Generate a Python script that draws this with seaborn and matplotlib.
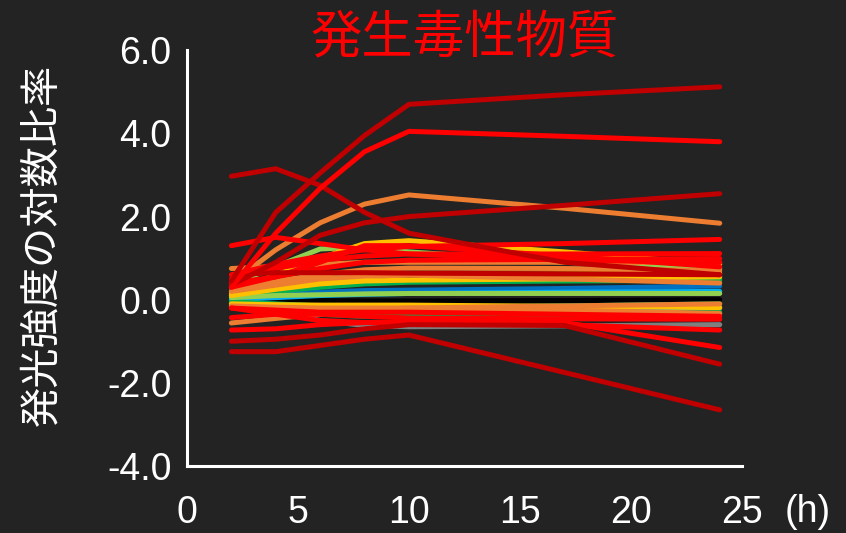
import numpy as np
import pandas as pd
import matplotlib
matplotlib.use('Agg')
import matplotlib.pyplot as plt
import seaborn as sns

# time points (h)
hours = [2, 4, 6, 8, 10, 17, 24]

# Excel standard colours used in the chart
RED = '#FF0000'
DRED = '#C00000'
ORANGE = '#ED7D31'
YELLOW = '#FFC000'
LGREEN = '#92D050'
GREEN = '#00B050'
CYAN = '#00B0F0'
BLUE = '#0070C0'
BLACK = '#000000'
GRAY = '#7F7F7F'

# log ratio of luminescence, one list per compound
line_colors = [
    GRAY, BLACK, BLUE, CYAN, CYAN, GREEN, GREEN, GREEN, GREEN,
    LGREEN, LGREEN, YELLOW, YELLOW, YELLOW, YELLOW,
    ORANGE, ORANGE, ORANGE, ORANGE, ORANGE, ORANGE,
    RED, RED, RED, DRED, RED, RED, RED, RED, RED, RED,
    DRED, DRED, DRED, DRED, RED, DRED,
]
line_values = [
    [-0.15, -0.30, -0.50, -0.62, -0.65, -0.63, -0.60],   # gray
    [0.00, 0.00, -0.02, -0.03, -0.03, -0.02, 0.00],      # black
    [0.05, 0.12, 0.18, 0.22, 0.23, 0.27, 0.33],          # blue
    [0.00, 0.05, 0.10, 0.13, 0.15, 0.18, 0.20],          # cyan
    [-0.05, -0.15, -0.25, -0.30, -0.30, -0.25, -0.20],   # cyan
    [0.10, 0.20, 0.30, 0.38, 0.42, 0.45, 0.47],          # green
    [0.20, 0.35, 0.50, 0.60, 0.65, 0.58, 0.50],          # green
    [-0.05, -0.10, -0.15, -0.20, -0.20, -0.15, -0.10],   # green
    [-0.10, -0.20, -0.35, -0.40, -0.40, -0.35, -0.30],   # green
    [0.35, 0.80, 1.22, 1.27, 1.15, 0.90, 0.75],          # light green
    [0.05, 0.10, 0.12, 0.14, 0.15, 0.15, 0.15],          # light green
    [0.20, 0.60, 1.00, 1.35, 1.42, 1.15, 0.85],          # yellow
    [0.10, 0.25, 0.38, 0.45, 0.47, 0.50, 0.55],          # yellow
    [0.15, 0.30, 0.45, 0.55, 0.60, 0.62, 0.63],          # yellow
    [-0.10, -0.12, -0.13, -0.13, -0.13, -0.16, -0.19],   # yellow
    [0.40, 1.20, 1.85, 2.30, 2.52, 2.20, 1.84],          # orange
    [0.75, 0.80, 0.85, 0.90, 0.90, 0.90, 0.89],          # orange
    [0.30, 0.45, 0.60, 0.72, 0.76, 0.75, 0.70],          # orange
    [0.20, 0.35, 0.50, 0.57, 0.59, 0.50, 0.40],          # orange
    [-0.15, -0.18, -0.20, -0.20, -0.20, -0.25, -0.33],   # orange
    [-0.56, -0.45, -0.35, -0.25, -0.20, -0.15, -0.10],   # orange
    [0.50, 0.75, 0.95, 1.05, 1.10, 1.10, 1.11],          # red
    [0.40, 0.55, 0.75, 0.90, 0.95, 0.97, 0.99],          # red
    [0.30, 0.55, 0.90, 1.30, 1.30, 1.05, 0.79],          # red
    [0.60, 0.65, 0.65, 0.65, 0.64, 0.62, 0.60],          # dark red
    [-0.43, -0.35, -0.35, -0.40, -0.44, -0.46, -0.47],   # red
    [-0.20, -0.25, -0.30, -0.30, -0.30, -0.35, -0.40],   # red
    [-0.20, -0.35, -0.50, -0.55, -0.53, -0.60, -0.73],   # red
    [1.30, 1.50, 1.35, 1.20, 1.10, 0.95, 0.90],          # red
    [0.60, 0.85, 1.05, 1.20, 1.28, 1.35, 1.45],          # red
    [-0.73, -0.70, -0.60, -0.55, -0.55, -0.55, -1.15],   # red
    [0.35, 0.90, 1.55, 1.85, 2.00, 2.27, 2.55],          # dark red
    [2.97, 3.15, 2.75, 2.10, 1.60, 0.90, 0.60],          # dark red
    [-1.00, -0.95, -0.85, -0.70, -0.60, -0.62, -1.55],   # dark red
    [-1.25, -1.25, -1.10, -0.95, -0.85, -1.75, -2.65],   # dark red
    [0.30, 1.60, 2.68, 3.56, 4.05, 3.93, 3.80],          # red
    [0.45, 2.10, 3.05, 3.95, 4.70, 4.93, 5.12],          # dark red
]

y_ticks = [-4, -2, 0, 2, 4, 6]
x_ticks = [0, 5, 10, 15, 20, 25]

rows = []
for i, vals in enumerate(line_values):
    for t, v in zip(hours, vals):
        rows.append({'id': i, 'hour': t, 'value': v})
df = pd.DataFrame(rows)
palette = {i: c for i, c in enumerate(line_colors)}

BG = '#232323'
sns.set_style('dark', {'axes.facecolor': BG, 'figure.facecolor': BG})
plt.rcParams['font.family'] = ['Liberation Sans', 'DejaVu Sans']

fig = plt.figure(figsize=(8.46, 5.33), dpi=100)
ax = fig.add_axes([0.221, 0.1257, 0.656, 0.780])

sns.lineplot(data=df, x='hour', y='value', hue='id', palette=palette,
             legend=False, linewidth=3.6, sort=False, ax=ax)

ax.set_xlim(0, 25)
ax.set_ylim(-4, 6)
ax.set_xticks(x_ticks)
ax.set_yticks(y_ticks)
ax.set_yticklabels([f'{v:.1f}' for v in y_ticks])
ax.set_xlabel('')
ax.set_ylabel('')
ax.grid(False)

for side in ['top', 'right']:
    ax.spines[side].set_visible(False)
for side in ['left', 'bottom']:
    ax.spines[side].set_visible(True)
    ax.spines[side].set_color('white')
    ax.spines[side].set_linewidth(2.2)
ax.tick_params(axis='both', colors='white', labelsize=27, length=5,
               width=2.2, direction='out')
ax.tick_params(axis='x', pad=16)
ax.tick_params(axis='y', pad=6)

fig.text(465 / 846, 1 - 38 / 533, '発生毒性物質', color='#FF0000',
         fontsize=37, ha='center', va='center',
         family=['Noto Sans CJK JP', 'DejaVu Sans'])
fig.text(42 / 846, 1 - 245 / 533, '発光強度の対数比率', color='white',
         fontsize=29, ha='center', va='center', rotation=90,
         family=['Noto Sans CJK JP', 'DejaVu Sans'])
fig.text(808 / 846, 1 - 512 / 533, '(h)', color='white', fontsize=27,
         ha='center', va='center')

fig.savefig('out.png', dpi=100, facecolor=BG)
